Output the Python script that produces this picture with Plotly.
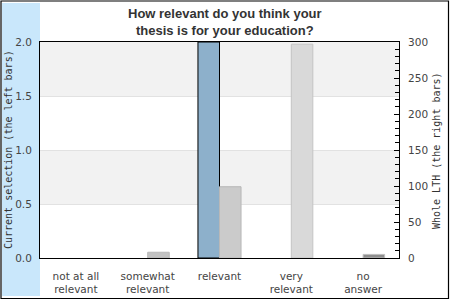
import plotly.graph_objects as go

categories = ["not at all<br>relevant", "somewhat<br>relevant", "relevant", "very<br>relevant", "no<br>answer"]
current_selection = [0, 0, 2, 0, 0]
whole_lth = [0, 8, 99, 297, 5]
whole_colors = ["#c4c4c4", "#c2c2c2", "#cbcbcb", "#d9d9d9", "#8f8f8f"]
whole_line_colors = ["#b0b0b0", "#b8b8b8", "#b8b8b8", "#c4c4c4", "#c0c0c0"]

W, H = 450, 300
L, R, T, B = 40, 51, 42, 42
pw, ph = W - L - R, H - T - B

def px(x):
    return (x - L) / pw

def py(y):
    return (H - B - y) / ph

fig = go.Figure()
fig.add_trace(go.Bar(
    x=categories, y=current_selection, yaxis="y", offsetgroup="1",
    marker=dict(color="#8db0cb",
                line=dict(color="black", width=[1 if v > 0 else 0 for v in current_selection])),
    showlegend=False, hoverinfo="skip"))
fig.add_trace(go.Bar(
    x=categories, y=whole_lth, yaxis="y2", offsetgroup="2",
    marker=dict(color=whole_colors,
                line=dict(color=whole_line_colors, width=[1 if v > 0 else 0 for v in whole_lth])),
    showlegend=False, hoverinfo="skip"))

shapes = [
    # light blue band on the left
    dict(type="rect", xref="paper", yref="paper", x0=px(2), x1=px(40), y0=py(296), y1=py(3),
         fillcolor="#c9e7fb", line=dict(width=0), layer="below"),
    # outer border
    dict(type="rect", xref="paper", yref="paper", x0=px(1), x1=px(448.5), y0=py(298.5), y1=py(1),
         fillcolor="rgba(0,0,0,0)", line=dict(color="black", width=1.2), layer="above"),
    # alternating bands
    dict(type="rect", xref="paper", yref="y", x0=0, x1=1, y0=0.5, y1=1.0,
         fillcolor="#f2f2f2", line=dict(width=0), layer="below"),
    dict(type="rect", xref="paper", yref="y", x0=0, x1=1, y0=1.5, y1=2.0,
         fillcolor="#f2f2f2", line=dict(width=0), layer="below"),
]

mono = "DejaVu Sans Mono"
annotations = [
    dict(text="<b>How relevant do you think your<br>thesis is for your education?</b>",
         xref="paper", yref="paper", x=px(225), y=py(4), xanchor="center", yanchor="top",
         showarrow=False, align="center",
         font=dict(family="Liberation Sans", size=13, color="#333")),
    dict(text="Current selection (the left bars)", xref="paper", yref="paper",
         x=px(8), y=0.5, textangle=-90, showarrow=False,
         font=dict(family=mono, size=10, color="#333"), xanchor="center", yanchor="middle"),
    dict(text="Whole LTH (the right bars)", xref="paper", yref="paper",
         x=px(436), y=py(151), textangle=-90, showarrow=False,
         font=dict(family=mono, size=10, color="#333"), xanchor="center", yanchor="middle"),
]

fig.update_layout(
    width=W, height=H,
    margin=dict(l=L, r=R, t=T, b=B, pad=0, autoexpand=False),
    paper_bgcolor="white", plot_bgcolor="white",
    barmode="group", bargap=0.4, bargroupgap=0,
    font=dict(family="DejaVu Sans", size=10.5, color="#444"),
    shapes=shapes, annotations=annotations,
    xaxis=dict(showline=True, linecolor="black", linewidth=1, mirror=True, automargin=False,
               ticks="", showgrid=False, ticklabelstandoff=8,
               tickfont=dict(size=10.5, color="#444")),
    yaxis=dict(range=[0, 2], dtick=0.5, tickformat=".1f", showline=True, linecolor="black",
               linewidth=1, showgrid=True, gridcolor="#e2e2e2", gridwidth=1, ticks="",
               automargin=False, zeroline=False, ticklabelstandoff=5,
               tickfont=dict(size=10.5, color="#444")),
    yaxis2=dict(range=[0, 300], dtick=50, overlaying="y", side="right", showline=True,
                linecolor="black", linewidth=1, showgrid=False, zeroline=False, automargin=False,
                ticks="inside", ticklen=5, tickcolor="black",
                minor=dict(dtick=10, ticks="inside", ticklen=4, tickcolor="black"),
                ticklabelstandoff=6, tickfont=dict(size=10.5, color="#444")),
)

fig.write_html("out.html")
